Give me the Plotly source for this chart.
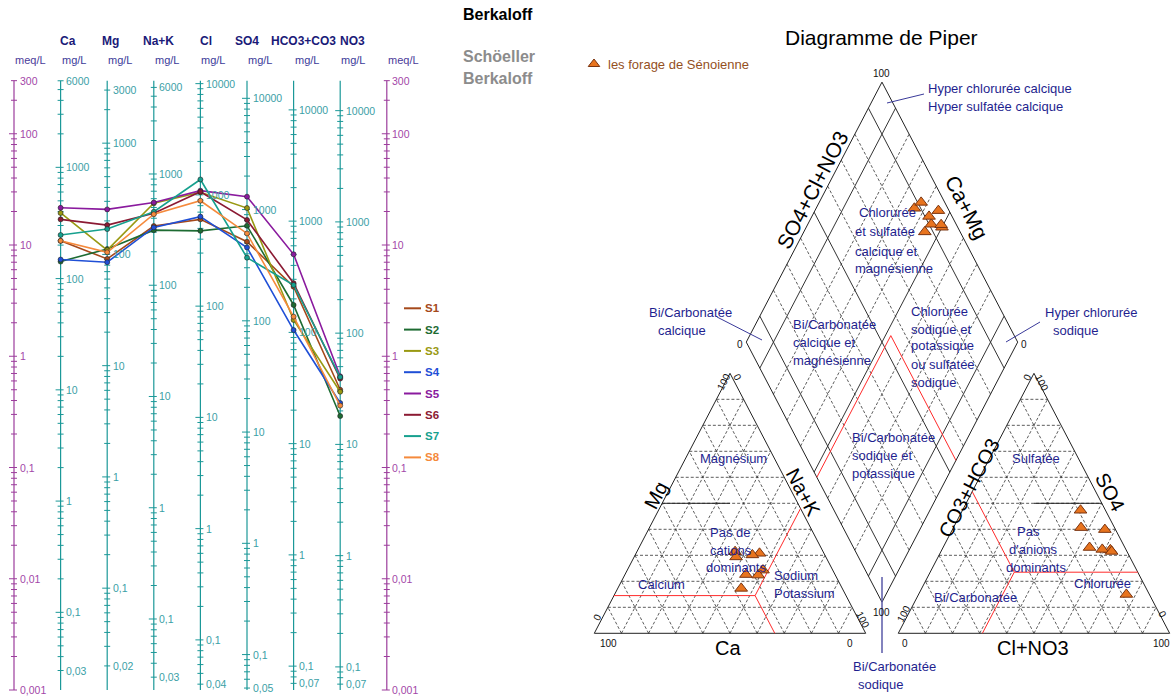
import math
import plotly.graph_objects as go

W, H = 1175, 699
FONT = "Liberation Sans, Arial, sans-serif"

# ---------------------------------------------------------------
# Analyses (meq/L) of the eight Senonian boreholes
# ---------------------------------------------------------------
samples = ["S1", "S2", "S3", "S4", "S5", "S6", "S7", "S8"]
colors = ["#a5491b", "#1d6b32", "#999912", "#1f4fd6",
          "#8a1a9e", "#8b1a33", "#16a08e", "#f58a3c"]
ca = [10.9, 7.1, 19.4, 7.4, 21.6, 17.0, 12.3, 10.9]
mg = [7.5, 9.2, 9.0, 7.0, 20.9, 15.1, 13.9, 8.6]
na_k = [14.8, 13.6, 23.7, 14.4, 24.1, 19.3, 19.9, 18.9]
cl = [17.0, 13.4, 29.8, 18.0, 30.8, 30.1, 38.8, 25.0]
so4 = [10.7, 14.9, 21.5, 9.5, 27.2, 16.8, 7.7, 12.7]
hco3 = [4.22, 2.89, 2.12, 1.72, 8.25, 4.53, 4.37, 2.27]
no3 = [0.50, 0.29, 0.48, 0.38, 0.66, 0.63, 0.65, 0.36]

# Schoeller-Berkaloff scales
ions = ["Ca", "Mg", "Na+K", "Cl", "SO4", "HCO3+CO3", "NO3"]
eq_weight = [20.04, 12.15, 23.0, 35.45, 48.03, 61.02, 62.0]
scale_top = [6000, 3000, 6000, 10000, 10000, 10000, 10000]
scale_bottom = [0.03, 0.02, 0.03, 0.04, 0.05, 0.07, 0.07]
ion_name_x = [68, 110, 158, 206, 247, 303, 352]
meq_top, meq_bottom = 300, 0.001

# Piper: boundary compositions drawn in red (fractions)
cat_ref = dict(ca=0.335, mg=0.145, na=0.52)
an_ref = dict(hco3=0.455, so4=0.235, cl=0.31)

# ---------------------------------------------------------------
# Layout constants
# ---------------------------------------------------------------
SX0, SDX = 14.0, 46.6          # first Schoeller axis (px) and spacing
PX_DEC, Y001 = 111.25, 690.0   # px per decade, px of 0.001 meq/L
P_X0, P_XS = 594.3, 271.4      # Piper x origin / side (px)
P_Y0, P_YS = 633.3, 300.2      # Piper y origin / scale (px per unit)
GAP = 0.12
SQ = math.sqrt(3) / 2

TEAL, TEAL_TXT = "#1b9898", "#3aa0a6"
PURP, PURP_TXT = "#9c3c9c", "#a347a8"
NAVY = "#1f1f8f"

fig = go.Figure()
anns = []
shapes = []


def note(text, px, py, size=12, color="#000", xanchor="center", angle=0,
         bold=False):
    anns.append(dict(text=f"<b>{text}</b>" if bold else text,
                     x=px / W, y=1 - py / H, xref="paper", yref="paper",
                     xanchor=xanchor, yanchor="middle", showarrow=False,
                     textangle=angle, borderpad=0,
                     font=dict(size=size, color=color, family=FONT)))


def pline(x0, y0, x1, y1, color, width=1):
    shapes.append(dict(type="line", xref="paper", yref="paper",
                       x0=x0 / W, y0=1 - y0 / H, x1=x1 / W, y1=1 - y1 / H,
                       line=dict(color=color, width=width)))


def fmt(v):
    if v >= 1:
        return str(int(round(v)))
    return f"{v:.6f}".rstrip("0").replace(".", ",")


def log_steps(lo, hi):
    vals = []
    for k in range(-4, 6):
        for n in range(1, 10):
            v = round(n * 10.0 ** k, 8)
            if lo * (1 - 1e-9) <= v <= hi * (1 + 1e-9):
                vals.append((v, n == 1))
    return vals


# ---------------------------------------------------------------
# Schoeller-Berkaloff diagram
# ---------------------------------------------------------------
def draw_scale(xi, weight, lo, hi, line_col, txt_col):
    fig.add_trace(go.Scatter(x=[xi, xi], y=[meq_bottom, meq_top], mode="lines",
                             line=dict(color=line_col, width=1.2),
                             hoverinfo="skip", showlegend=False))
    tx, ty = [], []
    for v, major in log_steps(lo, hi):
        left = (5 if major else 3) / SDX
        tx += [xi - left, xi + 3 / SDX, None]
        ty += [v / weight, v / weight, None]
    fig.add_trace(go.Scatter(x=tx, y=ty, mode="lines",
                             line=dict(color=line_col, width=1),
                             hoverinfo="skip", showlegend=False))
    labels = {lo, hi}
    for k in range(-4, 6):
        p = 10.0 ** k
        if lo < p < hi:
            labels.add(round(p, 8))
    for v in sorted(labels):
        anns.append(dict(text=fmt(v), x=xi + 4.5 / SDX,
                         y=math.log10(v / weight), xref="x", yref="y",
                         xanchor="left", yanchor="middle", showarrow=False,
                         borderpad=0,
                         font=dict(size=10.5, color=txt_col, family=FONT)))


draw_scale(0, 1.0, meq_bottom, meq_top, PURP, PURP_TXT)
for i, w in enumerate(eq_weight):
    draw_scale(i + 1, w, scale_bottom[i], scale_top[i], TEAL, TEAL_TXT)
draw_scale(8, 1.0, meq_bottom, meq_top, PURP, PURP_TXT)

for k, name in enumerate(samples):
    vals = [ca[k], mg[k], na_k[k], cl[k], so4[k], hco3[k], no3[k]]
    fig.add_trace(go.Scatter(
        x=list(range(1, 8)), y=vals, mode="lines+markers", name=name,
        line=dict(color=colors[k], width=1.6),
        marker=dict(size=5, color=colors[k], line=dict(color="#222", width=0.6)),
        showlegend=False))

# headers
for i, name in enumerate(ions):
    note(name, ion_name_x[i], 41, 12, "#1a1a78", bold=True)
    note("mg/L", SX0 + SDX * (i + 1), 60, 11, "#3b3b9a", xanchor="left")
note("meq/L", SX0, 60, 11, "#4b3b9a", xanchor="left")
note("meq/L", SX0 + SDX * 8, 60, 11, "#4b3b9a", xanchor="left")

note("Berkaloff", 462, 15, 16, "#000", xanchor="left", bold=True)
note("Schöeller", 462, 57, 16, "#8c8c8c", xanchor="left", bold=True)
note("Berkaloff", 462, 79, 16, "#8c8c8c", xanchor="left", bold=True)

# sample key
for k, name in enumerate(samples):
    py = 308.3 + 21.3 * k
    pline(404, py, 421, py, colors[k], 2)
    note(name, 424, py, 11.5, colors[k], xanchor="left", bold=True)

# ---------------------------------------------------------------
# Piper diagram
# ---------------------------------------------------------------
def cat_xy(c, m, n):
    t = c + m + n
    c, m, n = c / t, m / t, n / t
    return n + m / 2, m * SQ


def an_xy(h, s, c):
    t = h + s + c
    h, s, c = h / t, s / t, c / t
    return 1 + GAP + c + s / 2, s * SQ


def dia_xy(nf, sf):
    bx, by = 1 + GAP / 2, GAP * SQ
    return bx - 0.5 * (1 - nf) + 0.5 * sf, by + SQ * ((1 - nf) + sf)


def add_segments(segs, color="#222", width=1, dash=None):
    xs, ys = [], []
    for (a, b) in segs:
        xs += [a[0], b[0], None]
        ys += [a[1], b[1], None]
    fig.add_trace(go.Scatter(x=xs, y=ys, xaxis="x2", yaxis="y2", mode="lines",
                             line=dict(color=color, width=width, dash=dash),
                             hoverinfo="skip", showlegend=False))


grid_dash, grid_solid = [], []
fracs = [k / 10 for k in range(1, 10)]
for f in fracs:
    g = 1 - f
    # cation triangle
    grid_dash += [(cat_xy(g, f, 0), cat_xy(0, f, g)),
                  (cat_xy(g, 0, f), cat_xy(0, g, f)),
                  (cat_xy(f, 0, g), cat_xy(f, g, 0))]
    # anion triangle
    grid_dash += [(an_xy(g, f, 0), an_xy(0, f, g)),
                  (an_xy(g, 0, f), an_xy(0, g, f)),
                  (an_xy(f, 0, g), an_xy(f, g, 0))]
    # diamond
    segs = [(dia_xy(f, 0), dia_xy(f, 1)), (dia_xy(0, f), dia_xy(1, f))]
    if abs(f - 0.1) < 1e-9 or abs(f - 0.5) < 1e-9 or abs(f - 0.9) < 1e-9:
        grid_solid += segs
    else:
        grid_dash += segs

add_segments(grid_dash, "#333", 0.8, "3px,2px")
add_segments(grid_solid, "#333", 1)

outline = [
    (cat_xy(1, 0, 0), cat_xy(0, 0, 1)), (cat_xy(0, 0, 1), cat_xy(0, 1, 0)),
    (cat_xy(0, 1, 0), cat_xy(1, 0, 0)),
    (an_xy(1, 0, 0), an_xy(0, 0, 1)), (an_xy(0, 0, 1), an_xy(0, 1, 0)),
    (an_xy(0, 1, 0), an_xy(1, 0, 0)),
    (dia_xy(1, 0), dia_xy(1, 1)), (dia_xy(1, 1), dia_xy(0, 1)),
    (dia_xy(0, 1), dia_xy(0, 0)), (dia_xy(0, 0), dia_xy(1, 0)),
    # 50 % facies limits
    (cat_xy(0.5, 0.5, 0), cat_xy(0.25, 0.5, 0.25)),
    (an_xy(0.25, 0.5, 0.25), an_xy(0, 0.5, 0.5)),
]
add_segments(outline, "#222", 1)

# red boundary lines
cr, ar = cat_ref, an_ref
P = (cr["ca"], cr["mg"], cr["na"])
Q = (ar["hco3"], ar["so4"], ar["cl"])
red = [
    (cat_xy(1 - cr["mg"], cr["mg"], 0), cat_xy(*P)),
    (cat_xy(*P), cat_xy(cr["ca"], 0, 1 - cr["ca"])),
    (cat_xy(*P), cat_xy(0, 1 - cr["na"], cr["na"])),
    (an_xy(*Q), an_xy(0, ar["so4"], 1 - ar["so4"])),
    (an_xy(*Q), an_xy(1 - ar["cl"], 0, ar["cl"])),
    (an_xy(*Q), an_xy(ar["hco3"], 1 - ar["hco3"], 0)),
    (dia_xy(cr["na"], 0), dia_xy(cr["na"], 1 - ar["hco3"])),
    (dia_xy(1, 1 - ar["hco3"]), dia_xy(cr["na"], 1 - ar["hco3"])),
]
add_segments(red, "#ff2a2a", 1)

# sample points
px_c, py_c, px_a, py_a, px_d, py_d = [], [], [], [], [], []
for k in range(len(samples)):
    x, y = cat_xy(ca[k], mg[k], na_k[k])
    px_c.append(x); py_c.append(y)
    x, y = an_xy(hco3[k], so4[k], cl[k] + no3[k])
    px_a.append(x); py_a.append(y)
    nf = na_k[k] / (ca[k] + mg[k] + na_k[k])
    sf = (cl[k] + no3[k] + so4[k]) / (cl[k] + no3[k] + so4[k] + hco3[k])
    x, y = dia_xy(nf, sf)
    px_d.append(x); py_d.append(y)

tri_marker = dict(symbol="triangle-up", size=11, color="#e8741e",
                  line=dict(color="#7a3410", width=1))
fig.add_trace(go.Scatter(x=px_c + px_a + px_d, y=py_c + py_a + py_d,
                         xaxis="x2", yaxis="y2", mode="markers",
                         name="les forage de Sénoienne", marker=tri_marker,
                         text=samples * 3, showlegend=False))

# key of the Piper points
fig.add_trace(go.Scatter(x=[(594 - P_X0) / P_XS], y=[(P_Y0 - 64) / P_YS],
                         xaxis="x2", yaxis="y2", mode="markers",
                         marker=dict(tri_marker, size=10), hoverinfo="skip",
                         showlegend=False))
note("les forage de Sénoienne", 607, 65, 13, "#94501e", xanchor="left")

note("Diagramme de Piper", 882, 38, 21, "#000")

# axis names
note("Ca", 728, 648, 20)
note("Cl+NO3", 1033, 648, 20)
note("Mg", 656, 495, 20, angle=-62.4)
note("Na+K", 803, 492, 20, angle=62.4)
note("CO3+HCO3", 969, 488, 20, angle=-62.4)
note("SO4", 1110, 492, 20, angle=62.4)
note("SO4+Cl+NO3", 813, 190, 21, angle=-62.4)
note("Ca+Mg", 967, 207, 21, angle=62.4)

# scale ends
for txt, x, y, a in [("100", 882, 73, 0), ("0", 740, 344, 0),
                     ("0", 1024, 344, 0), ("100", 882, 612, 0),
                     ("100", 608, 643, 0), ("0", 850, 643, 0),
                     ("0", 597, 617, -62), ("100", 723, 382, -62),
                     ("0", 738, 377, 62), ("100", 863, 619, 62),
                     ("0", 905, 643, 0), ("100", 1161, 643, 0),
                     ("100", 903, 614, -62), ("0", 1027, 377, -62),
                     ("100", 1042, 382, 62), ("0", 1163, 614, 62)]:
    note(txt, x, y, 10, "#111", angle=a)

# facies names
facies = [
    ("Hyper chlorurée calcique", 927, 88), ("Hyper sulfatée calcique", 927, 106),
    ("Chlorurée", 858, 213), ("et sulfatée", 854, 232),
    ("calcique et", 854, 251), ("magnésienne", 854, 268),
    ("Bi/Carbonatée", 648, 312), ("calcique", 657, 330),
    ("Bi/Carbonatée", 792, 324), ("calcique et", 792, 342),
    ("magnésienne", 792, 360),
    ("Chlorurée", 910, 311), ("sodique et", 910, 329),
    ("potassique", 910, 346), ("ou sulfatée", 910, 364), ("sodique", 910, 382),
    ("Hyper chlorurée", 1044, 312), ("sodique", 1052, 330),
    ("Bi/Carbonatée", 851, 437), ("sodique et", 851, 455),
    ("potassique", 851, 473),
    ("Magnésium", 699, 458),
    ("Pas de", 709, 532), ("cations", 709, 550), ("dominants", 705, 567),
    ("Calcium", 637, 584), ("Sodium", 773, 575), ("Potassium", 773, 593),
    ("Sulfatée", 1011, 459),
    ("Pas", 1016, 531), ("d'anions", 1008, 549), ("dominants", 1005, 567),
    ("Chlorurée", 1073, 583), ("Bi/Carbonatée", 933, 597),
    ("Bi/Carbonatée", 852, 666), ("sodique", 857, 684),
]
for txt, x, y in facies:
    note(txt, x, y, 13, NAVY, xanchor="left")

pline(887, 103, 924, 94, "#3a3a9a")
pline(717, 317, 762, 340, "#3a3a9a")
pline(1040, 322, 1006, 342, "#3a3a9a")
pline(882, 577, 882, 653, "#5a5aa8", 1.5)

# ---------------------------------------------------------------
fig.update_layout(
    width=W, height=H, margin=dict(l=0, r=0, t=0, b=0),
    paper_bgcolor="white", plot_bgcolor="white",
    xaxis=dict(domain=[0, 440 / W], range=[-SX0 / SDX, (440 - SX0) / SDX],
               visible=False, fixedrange=True),
    yaxis=dict(type="log", domain=[0, 1],
               range=[-3 - (H - Y001) / PX_DEC, -3 + Y001 / PX_DEC],
               visible=False, fixedrange=True),
    xaxis2=dict(domain=[480 / W, 1], anchor="y2",
                range=[(480 - P_X0) / P_XS, (W - P_X0) / P_XS],
                visible=False, fixedrange=True),
    yaxis2=dict(domain=[0, 1], anchor="x2",
                range=[(P_Y0 - H) / P_YS, P_Y0 / P_YS],
                visible=False, fixedrange=True),
    annotations=anns, shapes=shapes, showlegend=False,
    font=dict(family=FONT),
)
fig.write_html("out.html", config={"displayModeBar": False})
